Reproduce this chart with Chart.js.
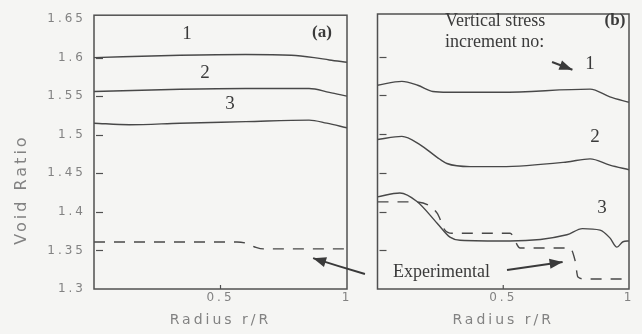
<!DOCTYPE html>
<html>
<head>
<meta charset="utf-8">
<script src="https://cdn.jsdelivr.net/npm/chart.js@4.4.0/dist/chart.umd.min.js"></script>
<style>
  html, body { margin: 0; padding: 0; background: #f5f5f3; }
  #wrap { position: relative; width: 642px; height: 334px; overflow: hidden; }
  canvas { position: absolute; top: 0; }
  #chart-a { left: 0; }
  #chart-b { left: 372px; }
</style>
</head>
<body>
<div id="wrap">
  <canvas id="chart-a" width="372" height="334"></canvas>
  <canvas id="chart-b" width="270" height="334"></canvas>
</div>
<script>
// (a) computed void ratio, one line per vertical stress increment
const aInc1R = [0, 0.34, 0.6, 0.78, 0.87, 0.93, 1];
const aInc1V = [1.600, 1.603, 1.604, 1.603, 1.600, 1.597, 1.594];
const aInc2R = [0, 0.34, 0.6, 0.85, 0.93, 1];
const aInc2V = [1.556, 1.559, 1.560, 1.560, 1.555, 1.550];
const aInc3R = [0, 0.14, 0.34, 0.6, 0.85, 0.92, 1];
const aInc3V = [1.515, 1.513, 1.515, 1.517, 1.519, 1.515, 1.509];
const aExpR = [0, 0.565, 0.605, 0.64, 0.67, 1];
const aExpV = [1.361, 1.361, 1.359, 1.354, 1.352, 1.352];

// (b)
const bInc1R = [0, 0.097, 0.16, 0.22, 0.28, 0.49, 0.845, 0.924, 1];
const bInc1V = [1.563, 1.568, 1.563, 1.555, 1.554, 1.554, 1.558, 1.548, 1.541];
const bInc2R = [0, 0.097, 0.17, 0.237, 0.276, 0.368, 0.49, 0.753, 0.845, 0.924, 1];
const bInc2V = [1.493, 1.497, 1.486, 1.470, 1.462, 1.458, 1.458, 1.464, 1.468, 1.460, 1.454];
const bInc3R = [0, 0.089, 0.157, 0.237, 0.288, 0.328, 0.527, 0.753, 0.815, 0.885, 0.924, 0.952, 0.976, 1];
const bInc3V = [1.419, 1.424, 1.413, 1.385, 1.367, 1.363, 1.362, 1.370, 1.378, 1.376, 1.366, 1.354, 1.361, 1.362];
const bExpR = [0, 0.141, 0.237, 0.268, 0.296, 0.527, 0.567, 0.765, 0.785, 0.797, 0.825, 1];
const bExpV = [1.4125, 1.4125, 1.398, 1.376, 1.372, 1.372, 1.353, 1.353, 1.3375, 1.3155, 1.313, 1.313];

const yTicks = [1.3, 1.35, 1.4, 1.45, 1.5, 1.55, 1.6, 1.65];
const yTickLabels = ["1.3", "1.35", "1.4", "1.45", "1.5", "1.55", "1.6", "1.65"];
const xTicks = [0.5, 1];
const xTickLabels = ["0.5", "1"];

const ink = "#484848";
const grey = "#828282";
const serif = "'Liberation Serif', 'Times New Roman', serif";

function lineSet(rs, vs, dashed) {
  return {
    data: rs.map((r, i) => ({ x: r, y: vs[i] })),
    borderColor: ink,
    borderWidth: 1.4,
    borderDash: dashed ? [11, 9] : [],
    pointRadius: 0,
    cubicInterpolationMode: "monotone",
    fill: false
  };
}

function makeScales(yWidth, withLabels) {
  return {
    x: {
      type: "linear", min: 0, max: 1,
      afterBuildTicks: (s) => { s.ticks = xTicks.map((v) => ({ value: v })); },
      afterFit: (s) => { s.height = 45; },
      grid: { display: false, drawTicks: false },
      border: { display: false },
      ticks: { color: grey, font: { family: "DejaVu Sans", size: 12 }, padding: 2, maxRotation: 0, autoSkip: false, callback: (v, i) => xTickLabels[i] },
      title: { display: true, text: "Radius r/R", color: grey, font: { family: "DejaVu Sans", size: 14 }, padding: { top: 0, bottom: 5 } }
    },
    y: {
      type: "linear", min: 1.3, max: 1.655,
      afterBuildTicks: (s) => { s.ticks = yTicks.map((v) => ({ value: v })); },
      afterFit: (s) => { s.width = yWidth; },
      grid: { display: false, drawTicks: false },
      border: { display: false },
      ticks: { display: withLabels, color: grey, font: { family: "DejaVu Sans", size: 12 }, padding: 8, autoSkip: false, callback: (v, i) => yTickLabels[i] }
    }
  };
}

function arrow(ctx, x1, y1, x2, y2, cx, cy) {
  ctx.beginPath();
  ctx.moveTo(x1, y1);
  if (cx !== undefined) ctx.quadraticCurveTo(cx, cy, x2, y2); else ctx.lineTo(x2, y2);
  ctx.stroke();
  const fx = cx !== undefined ? cx : x1, fy = cy !== undefined ? cy : y1;
  const a = Math.atan2(y2 - fy, x2 - fx);
  const len = 13, wid = 5;
  ctx.beginPath();
  ctx.moveTo(x2, y2);
  ctx.lineTo(x2 - len * Math.cos(a) + wid * Math.sin(a), y2 - len * Math.sin(a) - wid * Math.cos(a));
  ctx.lineTo(x2 - len * Math.cos(a) - wid * Math.sin(a), y2 - len * Math.sin(a) + wid * Math.cos(a));
  ctx.closePath();
  ctx.fill();
}

function decorPlugin(notes, arrows, yTitle) {
  return {
    id: "decor",
    beforeDraw(chart) { chart.ctx.letterSpacing = "3px"; },
    afterDraw(chart) {
      const { ctx, chartArea: ca, scales: { x, y } } = chart;
      ctx.save();
      ctx.letterSpacing = "0px";
      ctx.strokeStyle = "#505050";
      ctx.lineWidth = 1.5;
      ctx.strokeRect(ca.left, ca.top, ca.right - ca.left, ca.bottom - ca.top);
      ctx.lineWidth = 1.2;
      yTicks.slice(1, -1).forEach((v) => {
        const py = Math.round(y.getPixelForValue(v)) + 0.5;
        ctx.beginPath(); ctx.moveTo(ca.left + 2, py); ctx.lineTo(ca.left + 9, py); ctx.stroke();
      });
      xTicks.slice(0, -1).forEach((v) => {
        const px = x.getPixelForValue(v);
        ctx.beginPath(); ctx.moveTo(px, ca.bottom); ctx.lineTo(px, ca.bottom - 4); ctx.stroke();
      });
      ctx.fillStyle = "#3a3a3a";
      ctx.textBaseline = "middle";
      notes.forEach((n) => {
        ctx.font = n.font;
        ctx.textAlign = n.align || "center";
        ctx.fillText(n.text, x.getPixelForValue(n.r), y.getPixelForValue(n.v));
      });
      ctx.strokeStyle = "#3a3a3a";
      ctx.lineWidth = 2;
      arrows.forEach((a) => {
        const c = a.ctrl ? [x.getPixelForValue(a.ctrl[0]), y.getPixelForValue(a.ctrl[1])] : [];
        arrow(ctx, x.getPixelForValue(a.from[0]), y.getPixelForValue(a.from[1]),
          x.getPixelForValue(a.to[0]), y.getPixelForValue(a.to[1]), c[0], c[1]);
      });
      if (yTitle) {
        ctx.fillStyle = grey;
        ctx.font = "16px 'DejaVu Sans'";
        ctx.letterSpacing = "3px";
        ctx.translate(22, y.getPixelForValue(1.429));
        ctx.rotate(-Math.PI / 2);
        ctx.textAlign = "center";
        ctx.fillText(yTitle, 0, 0);
      }
      ctx.restore();
    }
  };
}

const numFont = "19px " + serif;

new Chart(document.querySelector("#chart-a"), {
  type: "line",
  data: { datasets: [
    lineSet(aInc1R, aInc1V), lineSet(aInc2R, aInc2V), lineSet(aInc3R, aInc3V), lineSet(aExpR, aExpV, true)
  ] },
  options: {
    responsive: false, animation: false,
    layout: { padding: { top: 14, right: 25, left: 0, bottom: 0 } },
    plugins: { legend: { display: false }, tooltip: { enabled: false } },
    scales: makeScales(94, true)
  },
  plugins: [decorPlugin([
    { text: "1", r: 0.368, v: 1.630, font: numFont },
    { text: "2", r: 0.439, v: 1.580, font: numFont },
    { text: "3", r: 0.538, v: 1.540, font: numFont },
    { text: "(a)", r: 0.901, v: 1.633, font: "bold 17px " + serif }
  ], [
    { from: [1.071, 1.3194], to: [0.866, 1.340], ctrl: [0.964, 1.3297] }
  ], "Void Ratio")]
});

new Chart(document.querySelector("#chart-b"), {
  type: "line",
  data: { datasets: [
    lineSet(bInc1R, bInc1V), lineSet(bInc2R, bInc2V), lineSet(bInc3R, bInc3V), lineSet(bExpR, bExpV, true)
  ] },
  options: {
    responsive: false, animation: false,
    layout: { padding: { top: 14, right: 13, left: 0, bottom: 0 } },
    plugins: { legend: { display: false }, tooltip: { enabled: false } },
    scales: makeScales(5.5, false)
  },
  plugins: [decorPlugin([
    { text: "Vertical stress", r: 0.268, v: 1.646, font: "18px " + serif, align: "left" },
    { text: "increment no:", r: 0.268, v: 1.619, font: "18px " + serif, align: "left" },
    { text: "(b)", r: 0.944, v: 1.647, font: "bold 17px " + serif },
    { text: "1", r: 0.845, v: 1.590, font: numFont },
    { text: "2", r: 0.865, v: 1.496, font: numFont },
    { text: "3", r: 0.893, v: 1.4046, font: numFont },
    { text: "Experimental", r: 0.062, v: 1.322, font: "18px " + serif, align: "left" }
  ], [
    { from: [0.694, 1.593], to: [0.775, 1.583] },
    { from: [0.515, 1.3245], to: [0.736, 1.335] }
  ], null)]
});
</script>
</body>
</html>
